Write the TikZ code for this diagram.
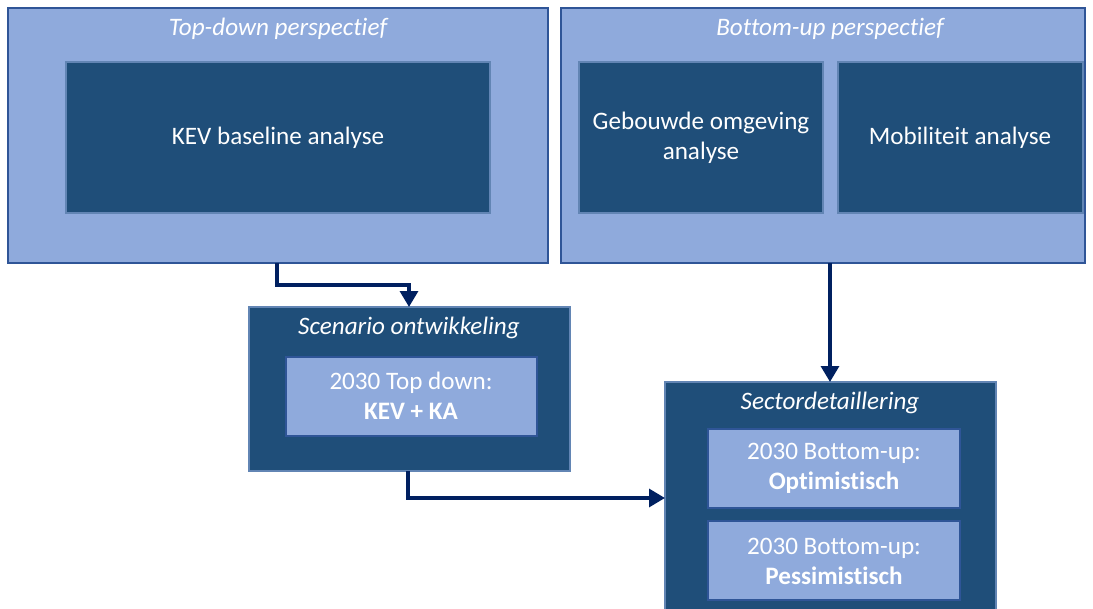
\documentclass[tikz,border=0pt]{standalone}
\usepackage{fontspec}
\setmainfont{Carlito}[Ligatures=CommonOff]
\usetikzlibrary{arrows.meta}
\definecolor{lightb}{HTML}{8FAADC}
\definecolor{darkb}{HTML}{1F4E79}
\definecolor{navy}{HTML}{002060}
\definecolor{edgel}{HTML}{2F5597}
\begin{document}
\begin{tikzpicture}[x=0.02cm,y=-0.02cm,
  lightbox/.style={draw=edgel,line width=0.6pt,fill=lightb},
  darkbox/.style={draw=lightb!60!darkb,line width=0.6pt,fill=darkb},
  lbl/.style={text=white,font=\fontsize{14.3}{17}\selectfont,align=center},
  ttl/.style={text=white,font=\fontsize{14.3}{17}\selectfont\itshape},
  conn/.style={draw=navy,line width=2.2pt,-{Triangle[length=9pt,width=10pt]}}]
\useasboundingbox (0,0) rectangle (1093,609);
% top-down
\path[lightbox] (8,8) rectangle (548,263);
\node[ttl] (tdt) at (278,29) {Top-down perspectief};
\path[darkbox] (66,62) rectangle (490,213);
\node[lbl] (kev) at (278,138) {KEV baseline analyse};
\coordinate (tdbot) at (277,263);
% bottom-up
\path[lightbox] (561,8) rectangle (1085,263);
\node[ttl] (but) at (830,29) {Bottom-up perspectief};
\path[darkbox] (579,62) rectangle (823,213);
\node[lbl] (geb) at (701,138) {Gebouwde omgeving\\analyse};
\path[darkbox] (838,62) rectangle (1083,213);
\node[lbl] (mob) at (960,138) {Mobiliteit analyse};
\coordinate (bubot) at (830,263);
% scenario
\path[darkbox] (249,307) rectangle (570,471);
\node[ttl] (sct) at (409,328) {Scenario ontwikkeling};
\path[lightbox] (286,357) rectangle (537,436);
\node[lbl] (tdn) at (411,396) {2030 Top down:\\\textbf{KEV + KA}};
\coordinate (sctop) at (409,307);
\coordinate (scbot) at (408,471);
% sector
\path[darkbox] (665,382) rectangle (996,612);
\node[ttl] (sdt) at (830,403) {Sectordetaillering};
\path[lightbox] (708,429) rectangle (960,508);
\node[lbl] (opt) at (834,468) {2030 Bottom-up:\\\textbf{Optimistisch}};
\path[lightbox] (708,521) rectangle (960,600);
\node[lbl] (pes) at (834,561) {2030 Bottom-up:\\\textbf{Pessimistisch}};
\coordinate (setop) at (830,382);
\coordinate (seleft) at (665,498);
% connectors
\draw[conn] (tdbot) -- (277,285) -| (sctop);
\draw[conn] (scbot) |- (seleft);
\draw[conn] (bubot) -- (setop);
\end{tikzpicture}
\end{document}
